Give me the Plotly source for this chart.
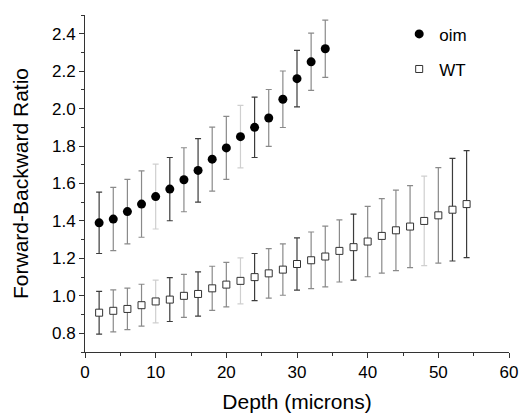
import numpy as np
import plotly.graph_objects as go

# depth positions (microns)
depth_oim = [2, 4, 6, 8, 10, 12, 14, 16, 18, 20, 22, 24, 26, 28, 30, 32, 34]
depth_wt = [2, 4, 6, 8, 10, 12, 14, 16, 18, 20, 22, 24, 26, 28,
            30, 32, 34, 36, 38, 40, 42, 44, 46, 48, 50, 52, 54]

# forward-backward ratio
ratio_oim = [1.39, 1.41, 1.45, 1.49, 1.53, 1.57, 1.62, 1.67, 1.73, 1.79,
             1.85, 1.90, 1.95, 2.05, 2.16, 2.25, 2.32]
err_oim = [0.164, 0.169, 0.172, 0.177, 0.173, 0.169, 0.171, 0.170, 0.171, 0.168,
           0.167, 0.161, 0.152, 0.151, 0.151, 0.153, 0.153]

ratio_wt = [0.91, 0.92, 0.93, 0.95, 0.97, 0.98, 1.00, 1.01, 1.04, 1.06,
            1.08, 1.10, 1.12, 1.14, 1.17, 1.19, 1.21, 1.24, 1.26, 1.29,
            1.32, 1.35, 1.37, 1.40, 1.43, 1.46, 1.49]
err_wt = [0.114, 0.112, 0.111, 0.112, 0.114, 0.117, 0.115, 0.118, 0.118, 0.119,
          0.123, 0.126, 0.132, 0.137, 0.140, 0.151, 0.162, 0.166, 0.176, 0.188,
          0.199, 0.215, 0.219, 0.239, 0.255, 0.274, 0.286]

# error bar shade per point (d = dark, m = mid grey, l = light grey)
shade_oim = list("dmmmldmdmmldmmdmm")
shade_wt = list("dmmmldmdmmldmmdmmmdmmmmlmdd")
shade_colors = {"d": "#3c3c3c", "m": "#8a8a8a", "l": "#cfcfcf"}

FONT = "Liberation Sans, Arial, sans-serif"

fig = go.Figure()


def add_error_bars(xs, ys, errs, shades):
    xs, ys, errs, shades = map(np.array, (xs, ys, errs, shades))
    for key, col in shade_colors.items():
        m = shades == key
        if not m.any():
            continue
        fig.add_trace(go.Scatter(
            x=xs[m], y=ys[m], mode="markers",
            marker=dict(size=1, opacity=0),
            error_y=dict(type="data", array=errs[m], color=col,
                         thickness=1.2, width=3),
            showlegend=False, hoverinfo="skip",
        ))


add_error_bars(depth_oim, ratio_oim, err_oim, shade_oim)
add_error_bars(depth_wt, ratio_wt, err_wt, shade_wt)

fig.add_trace(go.Scatter(
    x=depth_oim, y=ratio_oim, mode="markers", name="oim", legendgroup="oim",
    marker=dict(symbol="circle", size=9, color="black"),
))
fig.add_trace(go.Scatter(
    x=depth_wt, y=ratio_wt, mode="markers", name="WT", legendgroup="wt",
    marker=dict(symbol="square", size=7, color="white",
                line=dict(color="#333333", width=1)),
))

axis_common = dict(
    showline=True, linecolor="#333333", linewidth=1,
    ticks="outside", ticklen=5, tickcolor="#333333",
    showgrid=False, zeroline=False, mirror=False, automargin=False,
    tickfont=dict(size=17, color="black", family=FONT),
)

fig.update_xaxes(
    range=[0, 60], dtick=10, tick0=0,
    minor=dict(dtick=5, ticks="outside", ticklen=3, tickcolor="#333333"),
    title=dict(text="Depth (microns)", font=dict(size=21, family=FONT), standoff=12),
    **axis_common,
)
fig.update_yaxes(
    range=[0.7, 2.5], dtick=0.2, tick0=0.8, tickformat=".1f",
    minor=dict(dtick=0.1, ticks="outside", ticklen=3, tickcolor="#333333"),
    title=dict(text="Forward-Backward Ratio", font=dict(size=21, family=FONT), standoff=17),
    **axis_common,
)

fig.update_layout(
    width=520, height=418,
    margin=dict(l=85, r=11, t=15, b=66),
    plot_bgcolor="white", paper_bgcolor="white",
    font=dict(family=FONT, color="black"),
    legend=dict(x=0.741, y=0.996, xanchor="left", yanchor="top",
                font=dict(size=17), tracegroupgap=10,
                bgcolor="rgba(0,0,0,0)"),
)

# drop the default page margin so the figure sits at the window's corner
fig.write_html("out.html", config={"displayModeBar": False},
               post_script="document.body.style.margin='0';")
